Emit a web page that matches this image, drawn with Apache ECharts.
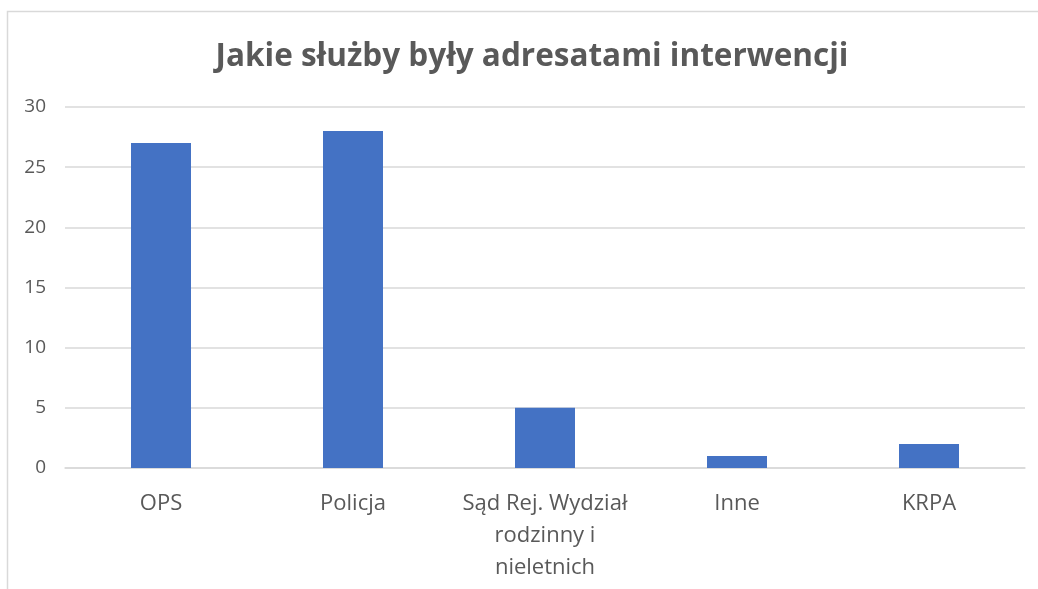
<!DOCTYPE html>
<html>
<head>
<meta charset="utf-8">
<script src="https://cdn.jsdelivr.net/npm/echarts@6/dist/echarts.min.js"></script>
<style>
    html, body { margin: 0; padding: 0; background: #fff; }
    #chart { width: 1038px; height: 589px; }
</style>
</head>
<body>
<div id="chart"></div>
<script type="text/javascript">
// dane
var categories = ['OPS', 'Policja', 'Sąd Rej. Wydział\nrodzinny i\nnieletnich', 'Inne', 'KRPA']
var values = [27, 28, 5, 1, 2]
var yTicks = [0, 5, 10, 15, 20, 25, 30]

var myChart = echarts.init(document.getElementById('chart'))
myChart.setOption({
    animation: false,
    title: {
        text: 'Jakie służby były adresatami interwencji',
        left: 527,
        top: 36,
        textAlign: 'center',
        textStyle: {
            fontFamily: 'Open Sans',
            fontSize: 31.5,
            fontWeight: 'bold',
            color: '#595959'
        }
    },
    graphic: [{
        type: 'rect',
        shape: { x: 7.5, y: 11.5, width: 1100, height: 700 },
        style: { fill: 'none', stroke: '#d9d9d9', lineWidth: 1.5 },
        silent: true
    }],
    grid: {
        left: 65,
        right: 13,
        top: 107,
        bottom: 121,
        containLabel: false
    },
    xAxis: {
        type: 'category',
        data: categories,
        axisLine: { show: true, lineStyle: { color: '#d9d9d9', width: 1.5 } },
        axisTick: { show: false },
        axisLabel: {
            interval: 0,
            margin: 20,
            fontFamily: 'Open Sans',
            fontSize: 22,
            lineHeight: 32,
            color: '#595959'
        }
    },
    yAxis: {
        type: 'value',
        min: yTicks[0],
        max: yTicks[yTicks.length - 1],
        interval: 5,
        axisLine: { show: false },
        axisTick: { show: false },
        splitLine: { lineStyle: { color: '#d9d9d9', width: 1.5 } },
        axisLabel: {
            margin: 19,
            fontFamily: 'Open Sans',
            fontSize: 19,
            color: '#595959'
        }
    },
    series: [{
        type: 'bar',
        data: values,
        barWidth: 60,
        itemStyle: { color: '#4472c4' }
    }]
})
</script>
</body>
</html>
